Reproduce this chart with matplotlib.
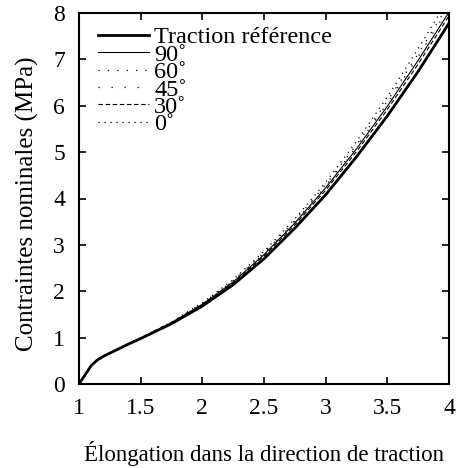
import matplotlib
matplotlib.use("Agg")
import matplotlib.pyplot as plt

plt.rcParams['font.family'] = ['Liberation Serif', 'DejaVu Serif']
plt.rcParams['font.size'] = 16.5

# Elongation values (x)
elong = [1, 1.05, 1.1, 1.15, 1.2, 1.3, 1.4, 1.5, 1.75, 2, 2.25, 2.5, 2.75, 3, 3.25, 3.5, 3.75, 4]

# Nominal stress curves (MPa)
ref = [0, 0.2, 0.4, 0.52, 0.6, 0.73, 0.86, 0.98, 1.3, 1.68, 2.14, 2.7, 3.36, 4.08, 4.9, 5.78, 6.74, 7.78]
s90 = [0, 0.2, 0.4, 0.52, 0.6, 0.73, 0.86, 0.99, 1.32, 1.72, 2.2, 2.79, 3.47, 4.23, 5.07, 5.99, 6.98, 8.02]
s60 = [0, 0.2, 0.4, 0.52, 0.6, 0.73, 0.86, 0.99, 1.33, 1.74, 2.23, 2.83, 3.52, 4.3, 5.16, 6.1, 7.12, 8.2]
s45 = [0, 0.2, 0.4, 0.52, 0.6, 0.73, 0.86, 0.99, 1.33, 1.73, 2.22, 2.81, 3.5, 4.27, 5.12, 6.05, 7.06, 8.12]
s30 = [0, 0.2, 0.4, 0.52, 0.6, 0.73, 0.86, 0.99, 1.32, 1.71, 2.18, 2.76, 3.43, 4.18, 5.01, 5.92, 6.9, 7.94]
s0 = [0, 0.2, 0.4, 0.52, 0.6, 0.73, 0.86, 0.99, 1.34, 1.75, 2.25, 2.86, 3.56, 4.35, 5.23, 6.19, 7.23, 8.33]

fig = plt.figure(figsize=(4.58, 4.68), dpi=100)
ax = fig.add_axes([79/458, 1 - 384/468, 370/458, 371/468])

ax.plot(elong, ref, color='black', lw=2.0, label='Traction référence')
ax.plot(elong, s90, color='black', lw=0.8, label='90˚')
ax.plot(elong, s60, color='black', lw=0.9, linestyle=(0, (1, 6.5)), label='60˚')
ax.plot(elong, s45, color='black', lw=0.9, linestyle=(0, (1, 9.4)), label='45˚')
ax.plot(elong, s30, color='black', lw=0.8, linestyle=(0, (4, 2.4)), label='30˚')
ax.plot(elong, s0, color='black', lw=0.9, linestyle=(0, (1, 3.8)), label='0˚')

ax.set_xlim(1, 4)
ax.set_ylim(0, 8)
ax.set_xticks([1, 1.5, 2, 2.5, 3, 3.5, 4])
ax.set_xticklabels(['1', '1.5', '2', '2.5', '3', '3.5', '4'])
ax.set_yticks(range(0, 9))
ax.tick_params(direction='in', top=True, right=True, length=5, width=1.2, pad=10, labelsize=17)
for sp in ax.spines.values():
    sp.set_linewidth(1.5)

ax.set_xlabel('Élongation dans la direction de traction', labelpad=16)
ax.set_ylabel('Contraintes nominales (MPa)', fontsize=18, va='center')
ax.yaxis.set_label_coords(-0.138, 0.485)

leg = ax.legend(loc='upper left', bbox_to_anchor=(0.016, 1.0), frameon=False,
                handlelength=2.1, handletextpad=0.2,
                labelspacing=-0.19, borderaxespad=0.15, fontsize=17.5)

fig.savefig('out.png', dpi=100)
